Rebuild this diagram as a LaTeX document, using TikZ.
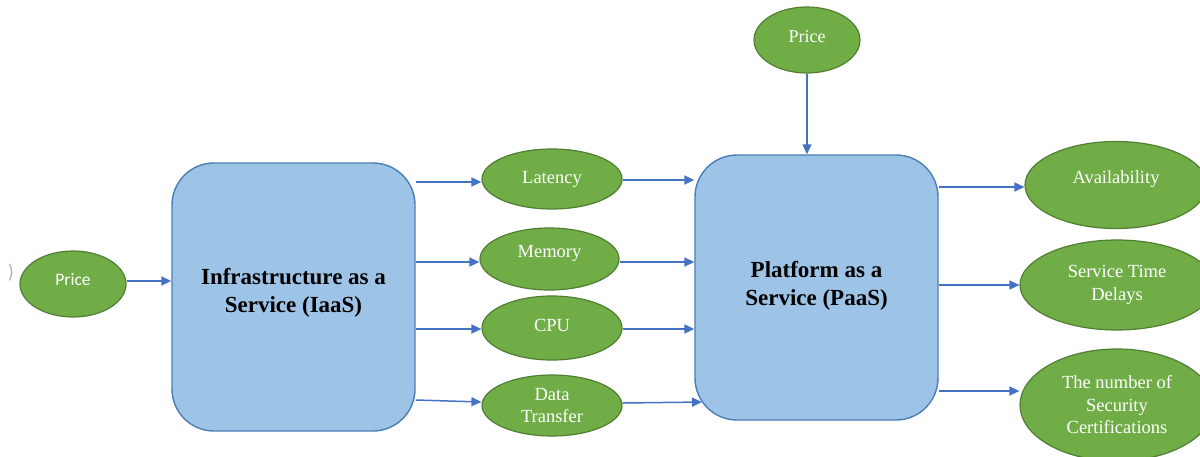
\documentclass[tikz,border=0pt]{standalone}
\usepackage{fontspec}
\setmainfont{Liberation Serif}
\newfontfamily\calfont{Carlito}
\usetikzlibrary{shapes.geometric,arrows.meta}
\definecolor{boxfill}{HTML}{9DC3E6}
\definecolor{boxline}{HTML}{4A7EB5}
\definecolor{ovfill}{HTML}{70AD47}
\definecolor{ovline}{HTML}{507E32}
\definecolor{arrowc}{HTML}{4472C4}
\tikzset{
  service/.style={draw=boxline, fill=boxfill, line width=1.4pt, rounded corners=42pt,
    align=center, font=\fontsize{23}{28}\selectfont\bfseries, inner sep=0pt},
  metric/.style={ellipse, draw=ovline, fill=ovfill, line width=1.2pt, text=white,
    align=center, inner sep=0pt, font=\fontsize{18.5}{22.5}\selectfont},
  link/.style={draw=arrowc, line width=1.5pt, -{Triangle[length=10pt,width=9pt]}}
}
\begin{document}
\begin{tikzpicture}[x=1pt,y=-1pt]
\useasboundingbox (0,0) rectangle (1200,456);
\clip (0,0) rectangle (1200,456);

% partial glyph at the left edge
\node[text=gray!60, font=\fontsize{20}{20}\selectfont\calfont] (edge) at (11,273) {)};

% service blocks
\node[service, minimum width=243pt, minimum height=268pt] (iaas) at (293.5,297) {\raisebox{13pt}{\shortstack{Infrastructure as a\\[9pt]Service (IaaS)}}};
\node[service, minimum width=243pt, minimum height=265pt] (paas) at (816.5,287.5) {\raisebox{8pt}{\shortstack{Platform as a\\[9pt]Service (PaaS)}}};

% inputs and metrics
\node[metric, minimum width=106pt, minimum height=66pt, font=\fontsize{17.5}{20}\selectfont\calfont] (price1) at (73,284) {\raisebox{10pt}{Price}};
\node[metric, minimum width=106pt, minimum height=66pt, font=\fontsize{18}{22}\selectfont] (price2) at (807,40) {\raisebox{6pt}{Price}};
\node[metric, minimum width=140pt, minimum height=60pt] (lat) at (552,179) {\raisebox{2pt}{Latency}};
\node[metric, minimum width=139pt, minimum height=62pt] (mem) at (549.5,259) {\raisebox{15pt}{Memory}};
\node[metric, minimum width=140pt, minimum height=64pt] (cpu) at (552,328) {\raisebox{5pt}{CPU}};
\node[metric, minimum width=140pt, minimum height=61pt] (dt) at (552,405.5) {Data\\Transfer};
\node[metric, minimum width=182pt, minimum height=87pt] (avail) at (1116,185) {\raisebox{15pt}{Availability}};
\node[metric, minimum width=194pt, minimum height=90pt] (std) at (1117,285) {Service Time\\Delays};
\node[metric, minimum width=194pt, minimum height=112pt] (sec) at (1117,405) {The number of\\Security\\Certifications};

% connectors
\draw[link] (price1.east |- 0,281) -- (iaas.west |- 0,281);
\draw[link] (price2.south) -- (price2.south |- paas.north);
\draw[link] (iaas.east |- 0,182) -- (lat.west |- 0,182);
\draw[link] (iaas.east |- 0,262) -- (mem.west |- 0,262);
\draw[link] (iaas.east |- 0,329) -- (cpu.west |- 0,329);
\draw[link] (iaas.east |- 0,400) -- (dt.west |- 0,402);
\coordinate (dtin) at (702,402);
\draw[link] (lat.east |- 0,180) -- (paas.west |- 0,180);
\draw[link] (mem.east |- 0,262) -- (paas.west |- 0,262);
\draw[link] (cpu.east |- 0,329) -- (paas.west |- 0,329);
\draw[link] (dt.east |- 0,403) -- (dtin);
\draw[link] (paas.east |- 0,187) -- (avail.west |- 0,187);
\draw[link] (paas.east |- 0,285) -- (std.west |- 0,285);
\draw[link] (paas.east |- 0,391) -- (sec.west |- 0,391);
\end{tikzpicture}
\end{document}
